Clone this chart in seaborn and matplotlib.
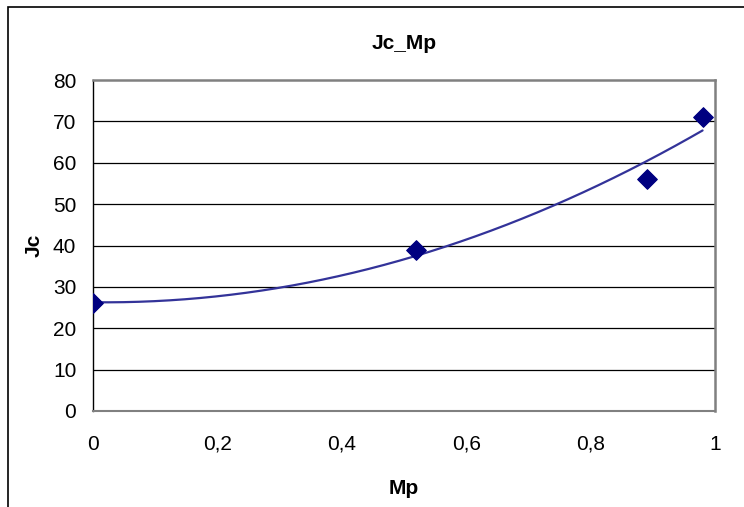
import matplotlib
matplotlib.use("Agg")
import matplotlib.pyplot as plt
import numpy as np
import pandas as pd
import seaborn as sns
from matplotlib.patches import Rectangle

# data
mp = [0.0, 0.52, 0.89, 0.98]
jc = [26, 39, 56, 71]
x_ticks = [0, 0.2, 0.4, 0.6, 0.8, 1.0]
x_labels = ["0", "0,2", "0,4", "0,6", "0,8", "1"]
y_ticks = [0, 10, 20, 30, 40, 50, 60, 70, 80]

df = pd.DataFrame({"Mp": mp, "Jc": jc})

# polynomial (order 2) trendline, like Excel
coef = np.polyfit(df.Mp, df.Jc, 2)
xs = np.linspace(min(mp), max(mp), 200)
trend = pd.DataFrame({"Mp": xs, "Jc": np.polyval(coef, xs)})

sns.set_style("white")
plt.rcParams['font.family'] = ['Liberation Sans', 'DejaVu Sans']
plt.rcParams['text.color'] = 'black'
plt.rcParams['axes.labelcolor'] = 'black'
plt.rcParams['xtick.color'] = 'black'
plt.rcParams['ytick.color'] = 'black'

fig = plt.figure(figsize=(7.44, 5.07), dpi=100)
ax = fig.add_axes([93 / 744, 1 - 411 / 507, 622 / 744, 331 / 507])

# outer chart border
fig.patches.append(Rectangle((8 / 744, -0.1), 1.2, 1 - 7 / 507 + 0.1,
                             transform=fig.transFigure, fill=False,
                             edgecolor="black", linewidth=1.2))

for y in y_ticks[1:-1]:
    ax.axhline(y, color="black", linewidth=0.9, zorder=1)

sns.lineplot(data=trend, x="Mp", y="Jc", ax=ax, color="#333399",
             linewidth=1.6, zorder=2)
sns.scatterplot(data=df, x="Mp", y="Jc", ax=ax, marker="D", s=100,
                color="#000080", edgecolor="#000080", zorder=3)

ax.set_xlim(0, 1)
ax.set_ylim(0, 80)
ax.set_xticks(x_ticks)
ax.set_xticklabels(x_labels)
ax.set_yticks(y_ticks)

for side in ["top", "right", "bottom"]:
    ax.spines[side].set_color("#808080")
    ax.spines[side].set_linewidth(1.8)
ax.spines["left"].set_color("black")
ax.spines["left"].set_linewidth(1.0)
ax.spines["bottom"].set_linewidth(1.5)

ax.tick_params(axis="both", direction="out", length=5, width=1,
               color="black", labelsize=15)
ax.tick_params(axis="x", pad=12)
ax.tick_params(axis="y", pad=7)

ax.set_title("Jc_Mp", fontsize=15, fontweight="bold", pad=22)
ax.set_xlabel("Mp", fontsize=15, fontweight="bold", labelpad=18)
ax.set_ylabel("Jc", fontsize=15, fontweight="bold", labelpad=7)

plt.savefig("out.png", dpi=100)
